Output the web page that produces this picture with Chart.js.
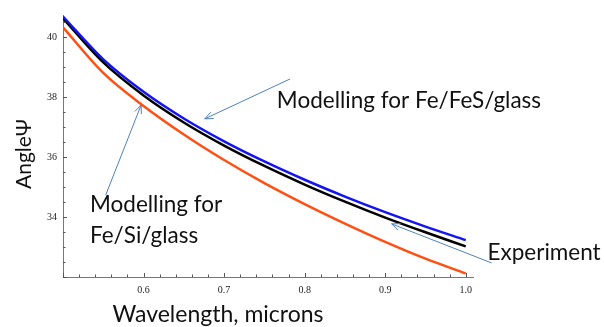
<!DOCTYPE html>
<html>
<head>
<meta charset="utf-8">
<script src="https://cdn.jsdelivr.net/npm/chart.js@4.4.1/dist/chart.umd.min.js"></script>
<style>
  html, body { margin: 0; padding: 0; background: #fff; }
  #wrap { width: 604px; height: 327px; }
</style>
</head>
<body>
<div id="wrap"><canvas id="chart"></canvas></div>
<script>
// wavelength, microns
var wavelength = [0.5, 0.55, 0.6, 0.65, 0.7, 0.75, 0.8, 0.85, 0.9, 0.95, 1.0];
// angle psi, degrees
var feFesGlass = [40.68, 39.25, 38.17, 37.28, 36.52, 35.85, 35.24, 34.68, 34.16, 33.68, 33.23];
var experiment = [40.62, 39.15, 38.05, 37.15, 36.38, 35.70, 35.08, 34.51, 33.98, 33.49, 33.02];
var feSiGlass = [40.32, 38.80, 37.70, 36.75, 35.90, 35.13, 34.43, 33.78, 33.17, 32.61, 32.12];

var xTicks = [0.6, 0.7, 0.8, 0.9, 1.0];
var yTicks = [34, 36, 38, 40];

var textFont = 'Lato, "Open Sans", sans-serif';
var arrowColor = 'rgb(79,129,189)';

// annotations, placed in data units
var arrows = [
  { from: [0.782, 38.6], to: [0.676, 37.27] },
  { from: [0.553, 34.73], to: [0.597, 37.73] },
  { from: [1.032, 32.47], to: [0.908, 33.77] }
];
var labels = [
  { text: 'Modelling for Fe/FeS/glass', at: [0.7655, 37.63] },
  { text: 'Modelling for', at: [0.5335, 34.17] },
  { text: 'Fe/Si/glass', at: [0.5335, 33.13] },
  { text: 'Experiment', at: [1.027, 32.57] }
];

var toPoints = ys => ys.map((y, i) => ({ x: wavelength[i], y: y }));

var decorations = {
  id: 'decorations',
  afterDatasetsDraw(chart) {
    var ctx = chart.ctx;
    var xs = chart.scales.x;
    var ys = chart.scales.y;
    var area = chart.chartArea;
    ctx.save();

    // inside ticks, major and minor
    ctx.strokeStyle = '#555';
    ctx.lineWidth = 1;
    ctx.beginPath();
    for (var i = 0; i <= 25; i++) {
      var v = 0.5 + i * 0.02;
      var px = Math.round(xs.getPixelForValue(v)) + 0.5;
      var len = (i % 5 === 0) ? 4 : 2.5;
      ctx.moveTo(px, area.bottom);
      ctx.lineTo(px, area.bottom - len);
    }
    for (var j = 0; j <= 17; j++) {
      var w = 32 + j * 0.5;
      var py = Math.round(ys.getPixelForValue(w)) + 0.5;
      var l = (j % 4 === 0) ? 4 : 2.5;
      ctx.moveTo(area.left, py);
      ctx.lineTo(area.left + l, py);
    }
    ctx.stroke();

    // arrows
    ctx.strokeStyle = arrowColor;
    ctx.lineWidth = 1;
    for (const a of arrows) {
      var x1 = xs.getPixelForValue(a.from[0]), y1 = ys.getPixelForValue(a.from[1]);
      var x2 = xs.getPixelForValue(a.to[0]), y2 = ys.getPixelForValue(a.to[1]);
      var ang = Math.atan2(y2 - y1, x2 - x1);
      ctx.beginPath();
      ctx.moveTo(x1, y1);
      ctx.lineTo(x2, y2);
      ctx.moveTo(x2 - 9 * Math.cos(ang - 0.4), y2 - 9 * Math.sin(ang - 0.4));
      ctx.lineTo(x2, y2);
      ctx.lineTo(x2 - 9 * Math.cos(ang + 0.4), y2 - 9 * Math.sin(ang + 0.4));
      ctx.stroke();
    }

    // labels
    ctx.fillStyle = '#111';
    ctx.font = '22.5px ' + textFont;
    ctx.textBaseline = 'alphabetic';
    ctx.textAlign = 'left';
    for (const t of labels) {
      ctx.fillText(t.text, xs.getPixelForValue(t.at[0]), ys.getPixelForValue(t.at[1]));
    }

    // axis titles
    ctx.textAlign = 'center';
    ctx.font = '23px ' + textFont;
    ctx.fillText('Wavelength, microns', 218, 322);
    ctx.translate(31, 154);
    ctx.rotate(-Math.PI / 2);
    ctx.font = '21px ' + textFont;
    ctx.fillText('Angle\u03A8', 0, 0);
    ctx.restore();
  }
};

var lineStyle = {
  borderWidth: 2.5,
  pointRadius: 0,
  fill: false,
  cubicInterpolationMode: 'monotone'
};

new Chart(document.getElementById('chart'), {
  type: 'line',
  data: {
    datasets: [
      Object.assign({ label: 'Fe/Si/glass', data: toPoints(feSiGlass), borderColor: 'rgb(255,80,20)' }, lineStyle),
      Object.assign({ label: 'Fe/FeS/glass', data: toPoints(feFesGlass), borderColor: 'rgb(20,20,240)' }, lineStyle),
      Object.assign({ label: 'Experiment', data: toPoints(experiment), borderColor: '#000' }, lineStyle)
    ]
  },
  options: {
    responsive: true,
    maintainAspectRatio: false,
    animation: false,
    events: [],
    layout: { padding: { left: 0, right: 131, top: 15, bottom: 0 } },
    plugins: { legend: { display: false }, tooltip: { enabled: false } },
    scales: {
      x: {
        type: 'linear',
        min: 0.5,
        max: 1.009,
        afterFit: s => { s.height = 50; },
        afterBuildTicks: s => { s.ticks = xTicks.map(v => ({ value: v })); },
        grid: { display: false, drawTicks: false },
        border: { display: true, color: '#777', width: 1 },
        ticks: {
          padding: 7,
          color: '#222',
          font: { family: '"Liberation Serif", serif', size: 10 },
          maxRotation: 0,
          callback: v => v.toFixed(1)
        }
      },
      y: {
        type: 'linear',
        min: 32,
        max: 40.73,
        afterFit: s => { s.width = 63; },
        afterBuildTicks: s => { s.ticks = yTicks.map(v => ({ value: v })); },
        grid: { display: false, drawTicks: false },
        border: { display: true, color: '#777', width: 1 },
        ticks: {
          padding: 6,
          color: '#222',
          font: { family: '"Liberation Serif", serif', size: 10 },
          callback: v => String(v)
        }
      }
    }
  },
  plugins: [decorations]
});
</script>
</body>
</html>
